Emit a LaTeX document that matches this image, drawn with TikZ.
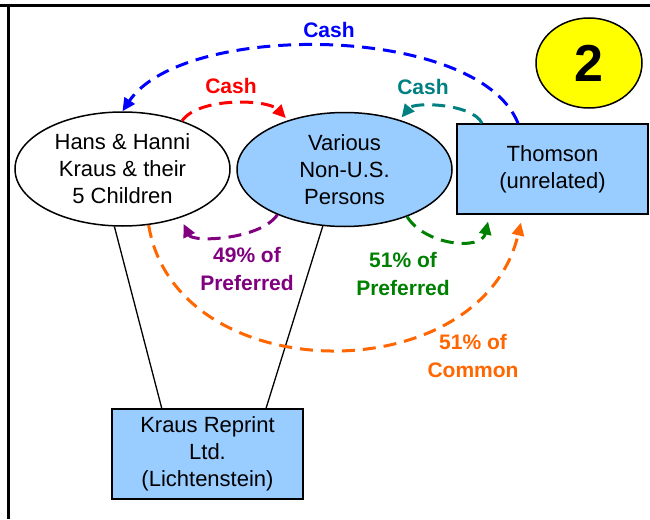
\documentclass[tikz,border=0pt]{standalone}
\usepackage{fontspec}
\setmainfont{Liberation Sans}
\usetikzlibrary{arrows.meta,calc,shapes.geometric}
\definecolor{lightblue}{HTML}{99CCFF}
\definecolor{cblue}{HTML}{0000FF}
\definecolor{cred}{HTML}{FF0000}
\definecolor{cteal}{HTML}{008080}
\definecolor{cpurple}{HTML}{800080}
\definecolor{cgreen}{HTML}{008000}
\definecolor{corange}{HTML}{FF6600}
\definecolor{cyellow}{HTML}{FFFF00}
\begin{document}
\begin{tikzpicture}[x=1pt,y=-1pt,
  every node/.style={font=\fontsize{22}{27}\selectfont, align=center, inner sep=0pt},
  ell/.style={ellipse, draw=black, line width=1.5pt, minimum width=215pt, minimum height=114pt},
  box/.style={rectangle, draw=black, line width=1.5pt, fill=lightblue, minimum width=191pt, minimum height=90pt},
  lbl/.style={font=\fontsize{21}{28}\selectfont\bfseries},
  flow/.style={line width=3pt, dash pattern=on 13pt off 8pt, -{Triangle[length=13pt,width=12pt]}},
  link/.style={draw=black, line width=1.3pt}
]
\useasboundingbox (0,0) rectangle (650,519);
% frame
\draw[line width=2.5pt] (0,5.5) -- (650,5.5);
\draw[line width=2.5pt] (8.5,5.5) -- (8.5,519);

% nodes
\node[ell, fill=white] (hans) at (122.5,169) {Hans \& Hanni\\Kraus \& their\\5 Children};
\node[ell, fill=lightblue] (various) at (344.5,169.5) {Various\\Non-U.S.\\Persons};
\node[box] (thomson) at (552.5,169) {Thomson\\(unrelated)};
\node[box] (kraus) at (207.5,454) {Kraus Reprint\\Ltd.\\(Lichtenstein)};
\node[ellipse, draw=black, line width=1.5pt, fill=cyellow, minimum width=106pt, minimum height=90pt,
      font=\fontsize{52}{52}\selectfont\bfseries] (two) at (589,63) {2};

% ownership lines
\draw[link] (hans.262) -- (kraus.135);
\draw[link] (various.249) -- (kraus.38.5);

% flows
\draw[flow, cblue] (thomson.127.5) .. controls +(-40,-100) and +(60,-90) .. (hans.north);
\draw[flow, cred, shorten >=3pt] (hans.39) .. controls +(17,-24) and +(-20,-21) .. (various.139);
\draw[flow, cteal, shorten >=3pt] (thomson.147) .. controls +(-10,-20) and +(14.6,-18) .. (various.42);
\draw[flow, cpurple, shorten >=7pt] (various.214) .. controls +(-17,25) and +(12,25) .. (hans.-40);
\draw[flow, cgreen, shorten >=7pt] (various.-37) .. controls +(18,29) and +(-8,36) .. (thomson.216);
\draw[flow, corange, shorten >=8pt] (hans.-65) .. controls +(27,165) and +(-42,178) .. (thomson.237);

% labels
\node[lbl, text=cblue] (cb) at (329,30) {Cash};
\node[lbl, text=cred] (cr) at (231,86) {Cash};
\node[lbl, text=cteal] (ct) at (423,87) {Cash};
\node[lbl, text=cpurple] (lp) at (247,269) {49\% of\\Preferred};
\node[lbl, text=cgreen] (lg) at (403,274) {51\% of\\Preferred};
\node[lbl, text=corange] (lo) at (473,355.5) {51\% of\\Common};
\end{tikzpicture}
\end{document}
